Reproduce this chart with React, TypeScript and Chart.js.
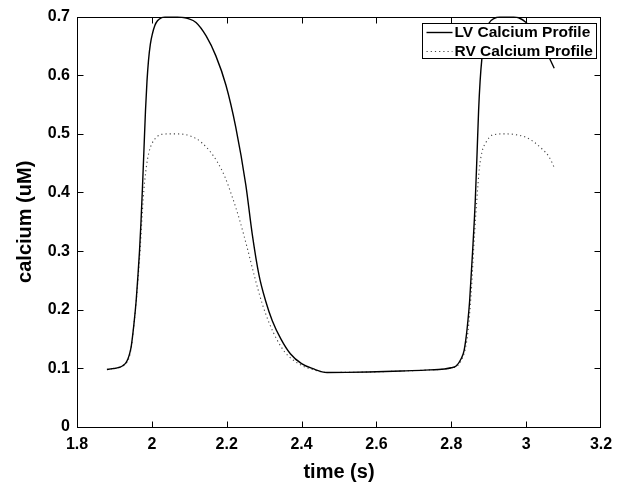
import React, { useEffect, useRef } from "react";
import { Chart, registerables } from "chart.js";

Chart.register(...registerables);

// ---- data ----
const lvTime = [
  1.88, 1.895, 1.905, 1.915, 1.923, 1.93, 1.936, 1.941, 1.945, 1.952, 1.958, 1.963, 1.967, 1.971, 1.975, 1.979,
  1.983, 1.987, 1.991, 1.996, 2.002, 2.008, 2.015, 2.025, 2.04, 2.06, 2.08, 2.095, 2.118, 2.145, 2.171, 2.198,
  2.224, 2.251, 2.268, 2.286, 2.304, 2.322, 2.345, 2.37, 2.4, 2.43, 2.468, 2.52, 2.578, 2.667,
  2.73, 2.782, 2.8, 2.813, 2.826, 2.834, 2.84, 2.845, 2.849, 2.857, 2.864, 2.869, 2.873, 2.877, 2.882, 2.89,
  2.9, 2.915, 2.935, 2.96, 2.98, 3.0, 3.02, 3.04, 3.06, 3.075,
];
const lvCalcium = [
  0.098, 0.0995, 0.1005, 0.102, 0.105, 0.109, 0.116, 0.126, 0.138, 0.175, 0.215, 0.26, 0.3, 0.35, 0.41, 0.475,
  0.54, 0.59, 0.625, 0.653, 0.672, 0.685, 0.693, 0.698, 0.7, 0.7, 0.699, 0.697, 0.69, 0.667, 0.633, 0.583,
  0.512, 0.413, 0.33, 0.26, 0.215, 0.181, 0.15, 0.125, 0.108, 0.0995, 0.093, 0.0932, 0.0938, 0.0955,
  0.097, 0.099, 0.101, 0.104, 0.116, 0.13, 0.155, 0.185, 0.215, 0.3, 0.385, 0.469, 0.54, 0.59, 0.63, 0.668,
  0.688, 0.697, 0.7, 0.7, 0.698, 0.69, 0.675, 0.655, 0.632, 0.612,
];
const rvTime = [
  1.88, 1.895, 1.905, 1.915, 1.925, 1.933, 1.94, 1.946, 1.953, 1.959, 1.964, 1.969, 1.973, 1.977, 1.981, 1.986,
  1.992, 2.0, 2.012, 2.029, 2.056, 2.087, 2.118, 2.135, 2.153, 2.175, 2.195, 2.215, 2.235, 2.255, 2.275, 2.295,
  2.315, 2.335, 2.355, 2.374, 2.4, 2.43, 2.468, 2.52, 2.578, 2.667, 2.73, 2.782, 2.8, 2.815, 2.828,
  2.838, 2.845, 2.853, 2.862, 2.868, 2.875, 2.882, 2.893, 2.91, 2.942, 2.968, 2.996, 3.021, 3.043, 3.061, 3.075,
];
const rvCalcium = [
  0.098, 0.0995, 0.1005, 0.102, 0.105, 0.11, 0.12, 0.14, 0.18, 0.22, 0.26, 0.305, 0.35, 0.39, 0.42, 0.447,
  0.468, 0.483, 0.494, 0.4995, 0.5, 0.499, 0.492, 0.484, 0.472, 0.452, 0.427, 0.392, 0.352, 0.305, 0.255, 0.21,
  0.175, 0.148, 0.128, 0.116, 0.105, 0.098, 0.093, 0.0932, 0.0938, 0.0955, 0.097, 0.099, 0.101, 0.104, 0.115,
  0.135, 0.165, 0.227, 0.328, 0.385, 0.441, 0.469, 0.486, 0.498, 0.5, 0.499, 0.495, 0.486, 0.474, 0.461, 0.443,
];
const xTicks = [1.8, 2.0, 2.2, 2.4, 2.6, 2.8, 3.0, 3.2];
const xTickLabels = ["1.8", "2", "2.2", "2.4", "2.6", "2.8", "3", "3.2"];
const yTicks = [0, 0.1, 0.2, 0.3, 0.4, 0.5, 0.6, 0.7];
const yTickLabels = ["0", "0.1", "0.2", "0.3", "0.4", "0.5", "0.6", "0.7"];
const seriesNames = ["LV Calcium Profile", "RV Calcium Profile"];
const xTitle = "time (s)";
const yTitle = "calcium (uM)";

const FONT = "'Liberation Sans', Arial, Helvetica, sans-serif";

const framePlugin = {
  id: "matlabFrame",
  afterDatasetsDraw(chart: any) {
    const { ctx, chartArea: a, scales } = chart;
    const L = Math.round(a.left) + 0.5;
    const R = Math.round(a.right) - 0.5;
    const T = Math.round(a.top) + 0.5;
    const B = Math.round(a.bottom) + 0.5;
    ctx.save();
    ctx.strokeStyle = "#000";
    ctx.lineWidth = 1;
    ctx.strokeRect(L, T, R - L, B - T);
    const tl = 6;
    ctx.beginPath();
    xTicks.slice(1, -1).forEach((v) => {
      const px = Math.round(scales.x.getPixelForValue(v)) + 0.5;
      ctx.moveTo(px, B);
      ctx.lineTo(px, B - tl);
      ctx.moveTo(px, T);
      ctx.lineTo(px, T + tl);
    });
    yTicks.slice(1, -1).forEach((v) => {
      const py = Math.round(scales.y.getPixelForValue(v)) + 0.5;
      ctx.moveTo(L, py);
      ctx.lineTo(L + tl, py);
      ctx.moveTo(R, py);
      ctx.lineTo(R - tl, py);
    });
    ctx.stroke();

    // legend box (MATLAB style, inside top-right)
    ctx.font = `bold 15.5px ${FONT}`;
    const tw = Math.max(...seriesNames.map((s) => ctx.measureText(s).width));
    const boxW = Math.round(32 + tw + 4);
    const boxH = 35;
    const bx = Math.round(a.right - 5 - boxW) + 0.5;
    const by = Math.round(a.top + 6) + 0.5;
    ctx.fillStyle = "#fff";
    ctx.fillRect(bx, by, boxW, boxH);
    ctx.strokeStyle = "#000";
    ctx.lineWidth = 1;
    ctx.strokeRect(bx, by, boxW, boxH);
    const rows = [by + 9, by + 28];
    chart.data.datasets.forEach((ds: any, i: number) => {
      const ry = rows[i];
      ctx.save();
      ctx.strokeStyle = ds.borderColor;
      ctx.lineWidth = ds.borderWidth;
      ctx.setLineDash(ds.borderDash || []);
      ctx.beginPath();
      ctx.moveTo(bx + 4, ry);
      ctx.lineTo(bx + 30, ry);
      ctx.stroke();
      ctx.restore();
      ctx.fillStyle = "#000";
      ctx.textBaseline = "middle";
      ctx.textAlign = "left";
      ctx.fillText(seriesNames[i], bx + 32, ry + 0.5);
    });
    ctx.restore();
  },
};

export default function App() {
  const ref = useRef<HTMLCanvasElement | null>(null);
  useEffect(() => {
    if (!ref.current) return;
    const chart = new Chart(ref.current, {
      type: "line",
      data: {
        datasets: [
          {
            label: seriesNames[0],
            data: lvTime.map((t, i) => ({ x: t, y: lvCalcium[i] })),
            borderColor: "#000",
            borderWidth: 1.4,
            pointRadius: 0,
            cubicInterpolationMode: "monotone",
            fill: false,
          },
          {
            label: seriesNames[1],
            data: rvTime.map((t, i) => ({ x: t, y: rvCalcium[i] })),
            borderColor: "#444",
            borderWidth: 1.1,
            borderDash: [1.2, 3],
            pointRadius: 0,
            cubicInterpolationMode: "monotone",
            fill: false,
          },
        ],
      },
      options: {
        animation: false,
        responsive: false,
        layout: { padding: { top: 14, right: 29, left: 0, bottom: 0 } },
        plugins: { legend: { display: false }, tooltip: { enabled: false } },
        scales: {
          x: {
            type: "linear",
            min: 1.8,
            max: 3.2,
            afterBuildTicks: (s: any) => {
              s.ticks = xTicks.map((v) => ({ value: v }));
            },
            afterFit: (s: any) => {
              s.height = 60;
            },
            grid: { display: false, drawTicks: false },
            border: { display: false },
            ticks: {
              color: "#000",
              padding: 8,
              maxRotation: 0,
              autoSkip: false,
              font: { family: FONT, size: 16, weight: "bold" },
              callback: (_v: any, i: number) => xTickLabels[i],
            },
            title: {
              display: true,
              text: xTitle,
              color: "#000",
              font: { family: FONT, size: 20, weight: "bold" },
              padding: { top: 0, bottom: 3 },
            },
          },
          y: {
            type: "linear",
            min: 0,
            max: 0.7,
            afterBuildTicks: (s: any) => {
              s.ticks = yTicks.map((v) => ({ value: v }));
            },
            afterFit: (s: any) => {
              s.width = 77;
            },
            grid: { display: false, drawTicks: false },
            border: { display: false },
            ticks: {
              color: "#000",
              padding: 7,
              autoSkip: false,
              font: { family: FONT, size: 16, weight: "bold" },
              callback: (_v: any, i: number) => yTickLabels[i],
            },
            title: {
              display: true,
              text: yTitle,
              color: "#000",
              font: { family: FONT, size: 20, weight: "bold" },
              padding: { top: 13, bottom: 0 },
            },
          },
        },
      },
      plugins: [framePlugin],
    });
    return () => chart.destroy();
  }, []);
  return (
    <div style={{ position: "absolute", left: 0, top: 0, width: 630, height: 487, background: "#fff" }}>
      <canvas ref={ref} width={630} height={487} style={{ display: "block" }} />
    </div>
  );
}
